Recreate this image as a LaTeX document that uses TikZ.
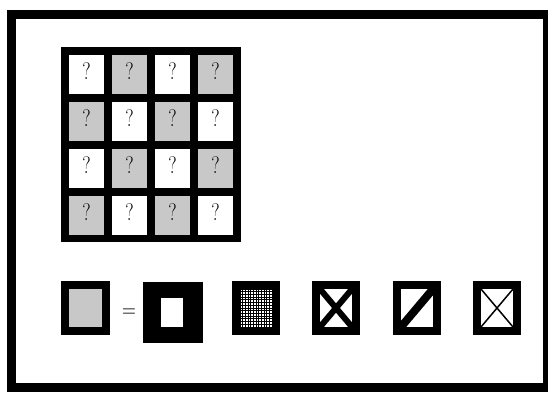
\documentclass[tikz,border=0pt]{standalone}
\definecolor{cellgray}{RGB}{200,200,200}
\tikzset{
  cellbox/.style={draw=none, inner sep=0pt, minimum width=35pt, minimum height=39pt,
    text depth=7pt, font=\fontsize{24}{24}\selectfont},
  blackbox/.style={fill=black, draw=none, inner sep=0pt},
  innerbox/.style={fill=white, draw=none, inner sep=0pt},
  framebox/.style={draw=black, line width=8.5pt},
}
\begin{document}
\begin{tikzpicture}[x=1pt,y=-1pt]
\useasboundingbox (0,0) rectangle (548,392);
% outer frame
\draw[framebox] (11.25,14.5) rectangle (547,387.5);
% grid block
\node[blackbox, minimum width=180pt, minimum height=195pt] (grid) at (151,144.5) {};
\foreach \r in {0,...,3}{
  \foreach \c in {0,...,3}{
    \pgfmathtruncatemacro{\pp}{mod(\r+\c,2)}
    \ifnum\pp=1 \def\cellfill{cellgray}\else\def\cellfill{white}\fi
    \node[cellbox, fill=\cellfill] (c\r\c) at ({86.5+43*\c},{74.5+47*\r}) {\scalebox{0.8}[1]{?}};
  }
}
% legend symbol 1
\node[blackbox, minimum width=49pt, minimum height=54pt] (s1) at (85.5,308) {};
\node[innerbox, fill=cellgray, minimum width=33pt, minimum height=38pt] (s1in) at (s1.center) {};
\node[inner sep=0pt, font=\fontsize{24}{24}\selectfont] (eq) at (129,313) {\scalebox{0.8}[1]{=}};
% symbol 2
\node[blackbox, minimum width=60pt, minimum height=61pt] (s2) at (173,312.5) {};
\node[innerbox, minimum width=22pt, minimum height=29pt] (s2in) at (172,312.5) {};
% symbol 3
\node[blackbox, minimum width=48pt, minimum height=54pt] (s3) at (256,308) {};
\node[innerbox, minimum width=32pt, minimum height=38pt] (s3in) at (s3.center) {};
\begin{scope}
  \clip (s3in.north west) rectangle (s3in.south east);
  \foreach \i in {0,...,12}{
    \draw[line width=0.9pt] ({240+2.667*\i},289) -- ({240+2.667*\i},327);
  }
  \foreach \j in {0,...,14}{
    \draw[line width=0.9pt] (240,{289+2.714*\j}) -- (272,{289+2.714*\j});
  }
\end{scope}
% symbol 4
\node[blackbox, minimum width=48pt, minimum height=54pt] (s4) at (336,308) {};
\node[innerbox, minimum width=32pt, minimum height=38pt] (s4in) at (s4.center) {};
\begin{scope}
  \clip (s4in.north west) rectangle (s4in.south east);
  \draw[line width=6pt] (s4in.north west) -- (s4in.south east);
  \draw[line width=6pt] (s4in.north east) -- (s4in.south west);
\end{scope}
% symbol 5
\node[blackbox, minimum width=48pt, minimum height=54pt] (s5) at (417,308) {};
\node[innerbox, minimum width=32pt, minimum height=38pt] (s5in) at (s5.center) {};
\begin{scope}
  \clip (s5in.north west) rectangle (s5in.south east);
  \draw[line width=8pt] (s5in.south west) -- (s5in.north east);
\end{scope}
% symbol 6
\node[blackbox, minimum width=48pt, minimum height=54pt] (s6) at (497,308) {};
\node[innerbox, minimum width=32pt, minimum height=38pt] (s6in) at (s6.center) {};
\begin{scope}
  \clip (s6in.north west) rectangle (s6in.south east);
  \draw[line width=1.5pt] (s6in.north west) -- (s6in.south east);
  \draw[line width=1.5pt] (s6in.north east) -- (s6in.south west);
\end{scope}
\end{tikzpicture}
\end{document}
